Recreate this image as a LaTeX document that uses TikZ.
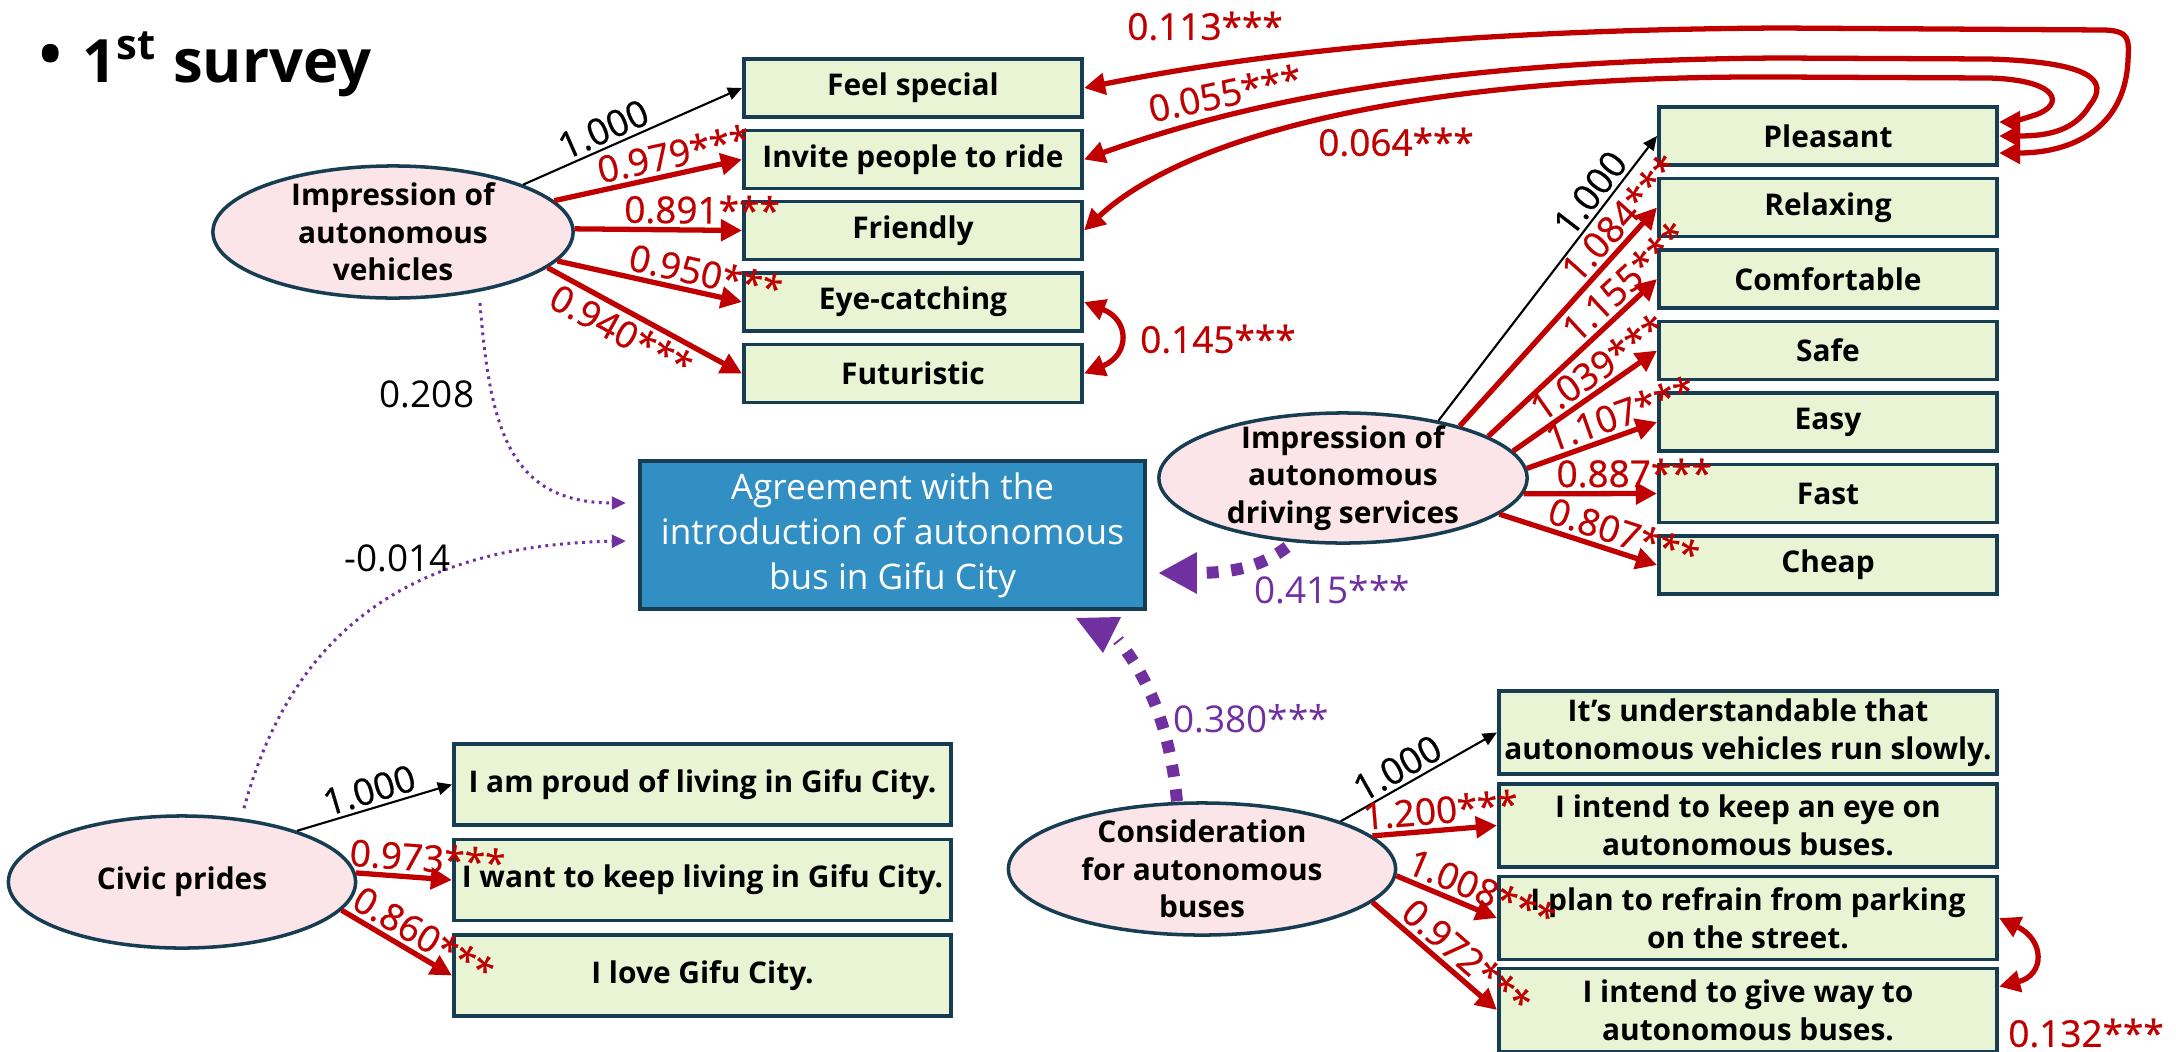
\documentclass[tikz,border=0pt]{standalone}
\usepackage{fontspec}
\setmainfont{Open Sans}
\newfontfamily\labfont{Open Sans}[FakeBold=0.7]
\usetikzlibrary{shapes.geometric,arrows.meta,calc}
\definecolor{boxfill}{HTML}{E9F4D4}
\definecolor{boxline}{HTML}{163D52}
\definecolor{ellfill}{HTML}{FCE5E9}
\definecolor{agfill}{HTML}{318FC4}
\definecolor{myred}{HTML}{C00000}
\definecolor{mypurple}{HTML}{7030A0}
\tikzset{
 item/.style={draw=boxline, line width=1.1pt, fill=boxfill, minimum width=3.38cm, minimum height=0.58cm, inner sep=1pt, align=center, font=\fontsize{8.5}{10.8}\selectfont\bfseries},
 wideitem/.style={item, minimum width=4.97cm, minimum height=0.81cm},
 latent/.style={ellipse, draw=boxline, line width=1pt, fill=ellfill, inner sep=0pt},
 lattext/.style={align=center, font=\fontsize{8.5}{10.7}\selectfont\bfseries},
 load/.style={myred, line width=1.5pt, -{Triangle[length=6pt,width=6pt]}},
 fixload/.style={black, line width=0.6pt, -{Triangle[length=4pt,width=3.6pt]}},
 cov/.style={myred, line width=1.5pt, {Triangle[length=6pt,width=6pt]}-{Triangle[length=6pt,width=6pt]}},
 lab/.style={font=\fontsize{10.5}{12}\selectfont\labfont, inner sep=1pt},
 redlab/.style={lab, text=myred},
 blacklab/.style={lab, text=black},
 pathlab/.style={font=\fontsize{10.5}{12}\selectfont, inner sep=1pt},
 weak/.style={mypurple, line width=0.85pt, dash pattern=on 0.8pt off 1.3pt, -{Triangle[length=4pt,width=3.6pt]}},
 strong/.style={mypurple, line width=3.4pt, dash pattern=on 3.4pt off 3.6pt},
}
\begin{document}
\begin{tikzpicture}[x=0.01cm, y=-0.01cm]
\useasboundingbox (0,0) rectangle (2176,1051);

% title
\node[font=\fontsize{17}{20}\selectfont\bfseries] (bul) at (51,60) {\textbullet};
\node[anchor=base west, font=\fontsize{17}{20}\selectfont\bfseries, inner sep=0pt] (title) at (82,82) {1\textsuperscript{st} survey};

% impression of autonomous vehicles
\node[latent, minimum width=3.60cm, minimum height=1.32cm] (iav) at (393,232) {};
\node[lattext] (iavt) at (iav) {Impression of\\autonomous\\vehicles};
\node[item] (fs) at (913,88) {Feel special};
\node[item] (ip) at (913,159.5) {Invite people to ride};
\node[item] (fr) at (913,230.5) {Friendly};
\node[item] (ec) at (913,302) {Eye-catching};
\node[item] (fu) at (913,373.5) {Futuristic};

% impression of driving services
\node[latent, minimum width=3.68cm, minimum height=1.30cm] (ids) at (1343,478) {};
\node[lattext] (idst) at (ids) {Impression of\\autonomous\\driving services};
\node[item] (pl) at (1828,136) {Pleasant};
\node[item] (re) at (1828,207.5) {Relaxing};
\node[item] (co) at (1828,279) {Comfortable};
\node[item] (sa) at (1828,350.5) {Safe};
\node[item] (ea) at (1828,422) {Easy};
\node[item] (fa) at (1828,493.5) {Fast};
\node[item] (ch) at (1828,565) {Cheap};

% outcome
\node[draw=boxline, line width=1.1pt, fill=agfill, minimum width=5.05cm, minimum height=1.48cm, text=white, align=center, font=\fontsize{10}{12.8}\selectfont] (ag) at (892.5,535) {Agreement with the\\introduction of autonomous\\bus in Gifu City};

% civic prides
\node[latent, minimum width=3.47cm, minimum height=1.32cm] (civ) at (182,882) {};
\node[lattext] (civt) at (civ) {Civic prides};
\node[wideitem] (c1) at (702.5,784.5) {I am proud of living in Gifu City.};
\node[wideitem] (c2) at (702.5,880) {I want to keep living in Gifu City.};
\node[wideitem] (c3) at (702.5,975.5) {I love Gifu City.};

% consideration
\node[latent, minimum width=3.87cm, minimum height=1.32cm] (con) at (1202,869) {};
\node[lattext] (cont) at (con) {Consideration\\for autonomous\\buses};
\node[wideitem, minimum width=4.98cm, minimum height=0.83cm] (k1) at (1748,732.5) {It’s understandable that\\autonomous vehicles run slowly.};
\node[wideitem, minimum width=4.98cm, minimum height=0.83cm] (k2) at (1748,825.5) {I intend to keep an eye on\\autonomous buses.};
\node[wideitem, minimum width=4.98cm, minimum height=0.83cm] (k3) at (1748,918) {I plan to refrain from parking\\on the street.};
\node[wideitem, minimum width=4.98cm, minimum height=0.83cm] (k4) at (1748,1010) {I intend to give way to\\autonomous buses.};

% loadings: vehicles
\draw[fixload] (iav.20) -- (fs.west) node[blacklab, sloped, above, pos=0.4] (la1) {1.000};
\draw[load] (iav.11) -- (ip.west) node[redlab, sloped, above, pos=0.66] (la2) {0.979***};
\draw[load] (iav.1) -- (fr.west) node[redlab, sloped, above, pos=0.76] (la3) {0.891***};
\draw[load] (iav.-10) -- (ec.west) node[redlab, sloped, above, pos=0.78] (la4) {0.950***};
\draw[load] (iav.-13) -- (fu.west) node[redlab, sloped, below, pos=0.43] (la5) {0.940***};

% loadings: services
\draw[fixload] (ids.31) -- (pl.west) node[blacklab, sloped, above, pos=0.76] (lb1) {1.000};
\draw[load] (ids.24) -- (re.west) node[redlab, sloped, above, pos=0.89] (lb2) {1.084***};
\draw[load] (ids.16) -- (co.west) node[redlab, sloped, above, pos=0.89] (lb3) {1.155***};
\draw[load] (ids.9) -- (sa.west) node[redlab, sloped, above, pos=0.67] (lb4) {1.039***};
\draw[load] (ids.3) -- (ea.west) node[redlab, sloped, above, pos=0.77] (lb5) {1.107***};
\draw[load] (ids.-5) -- (fa.west) node[redlab, sloped, above, pos=0.83] (lb6) {0.887***};
\draw[load] (ids.-13) -- (ch.west) node[redlab, sloped, above, pos=0.75] (lb7) {0.807***};

% loadings: civic
\draw[fixload] (civ.24) -- (c1.west) node[blacklab, sloped, above, pos=0.5] (lc1) {1.000};
\draw[load] (civ.3) -- (c2.west) node[redlab, sloped, above, pos=0.73] (lc2) {0.973***};
\draw[load] (civ.-10) -- (c3.west) node[redlab, sloped, above, pos=0.65] (lc3) {0.860***};

% loadings: consideration
\draw[fixload] (con.19) -- (k1.west) node[blacklab, sloped, above, pos=0.42] (ld1) {1.000};
\draw[load] (con.11) -- (k2.west) node[redlab, sloped, above, pos=0.56] (ld2) {1.200***};
\draw[load] (con.-2) -- (k3.west) node[redlab, sloped, above, pos=0.77] (ld3) {1.008***};
\draw[load] (con.-11) -- (k4.west) node[redlab, sloped, above, pos=0.65] (ld4) {0.972***};

% covariances
\draw[cov] (ec.east) .. controls (1130,320) and (1130,355) .. (fu.east);
\node[redlab, anchor=west] (l145) at (1136,339) {0.145***};
\draw[cov] (k3.east) .. controls (2045,940) and (2045,975) .. ($(k4.north east)+(0,20)$);
\node[redlab] (l132) at (2086,1033) {0.132***};

\draw[cov] (fs.east) .. controls (1250,55) and (1450,30) .. (1779,28) -- (2105,30) .. controls (2130,31) and (2129,40) .. (2128,60) .. controls (2125,130) and (2070,153) .. ($(pl.east)+(0,17)$);
\draw[cov] (ip.east) .. controls (1250,100) and (1450,60) .. (1779,58) -- (1989,59) .. controls (2090,62) and (2110,80) .. (2090,105) .. controls (2075,130) and (2050,136) .. (pl.east);
\draw[cov] (fr.east) .. controls (1180,140) and (1400,75) .. (1779,77) -- (1989,78) .. controls (2060,80) and (2065,105) .. (2035,115) .. controls (2020,120) and (2010,122) .. ($(pl.east)+(0,-14)$);
\node[redlab] (l113) at (1205,26) {0.113***};
\node[redlab, rotate=12] (l055) at (1225,93) {0.055***};
\node[redlab] (l064) at (1396,142) {0.064***};

% structural paths
\draw[weak] ($(iav.center)+(87,71)$) .. controls (490,430) and (510,503) .. ($(ag.west)+(-12,-32)$);
\node[pathlab] (l208) at (427,394) {0.208};
\draw[weak] ($(civ.north)+(62,-6)$) .. controls (290,640) and (400,545) .. ($(ag.west)+(-12,6)$);
\node[pathlab] (l014) at (398,558) {-0.014};

\draw[strong, -{Triangle[length=11pt,width=11pt]}] ($(ids.center)+(-56,69)$) .. controls (1262,566) and (1235,573) .. ($(ag.east)+(11,38)$);
\node[pathlab, text=mypurple] (l415) at (1332,590) {0.415***};

\coordinate (h380) at (1118,640);
\draw[strong] ($(con.north)+(-25,0)$) .. controls (1170,730) and (1150,680) .. (h380);
\fill[mypurple] (1076,618) -- (1121,617) -- (1103,653) -- cycle;
\node[pathlab, text=mypurple] (l380) at (1251,719) {0.380***};
\end{tikzpicture}
\end{document}
